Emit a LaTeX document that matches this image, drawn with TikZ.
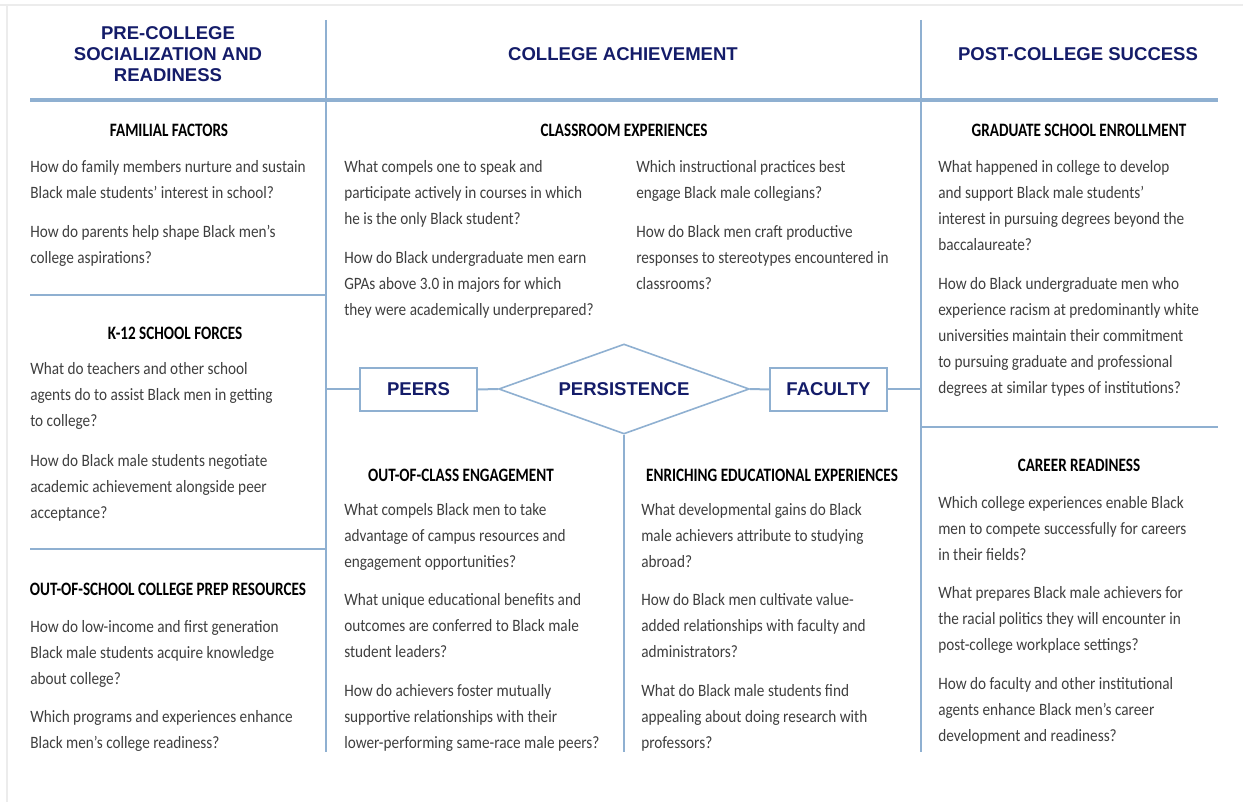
\documentclass[tikz,border=0pt]{standalone}
\usepackage{fontspec}
\setmainfont{Carlito}
\newfontfamily\hdfont{Liberation Sans}
\newfontfamily\qfont[FakeStretch=0.88]{Carlito}
\newfontfamily\subfont[FakeStretch=0.8]{Carlito}
\usetikzlibrary{shapes.geometric}
\definecolor{navy}{RGB}{20,28,105}
\definecolor{rulec}{RGB}{143,176,209}
\definecolor{bodyc}{RGB}{62,62,62}
\definecolor{framec}{RGB}{236,236,236}
\tikzset{
  hd/.style={font=\hdfont\bfseries\fontsize{13.9}{15.75}\selectfont, text=navy, align=center, inner sep=0pt},
  sub/.style={font=\subfont\bfseries\fontsize{14.2}{15}\selectfont, text=black, anchor=base, inner sep=0pt},
  q/.style={font=\qfont\fontsize{13}{19.5}\selectfont, text=bodyc, align=left, anchor=north west, inner sep=0pt,
    execute at begin node={\rule{0pt}{12pt}}},
  rl/.style={draw=rulec, line width=1.5pt},
  thickrl/.style={draw=rulec, line width=2.5pt},
  boxn/.style={draw=rulec, line width=1.2pt, fill=white, minimum width=87.75pt, minimum height=32.25pt, inner sep=0pt,
    font=\hdfont\bfseries\fontsize{13.9}{15}\selectfont, text=navy},
  diam/.style={draw=rulec, line width=1.2pt, fill=white, shape=diamond, aspect=2.8, minimum width=188pt, minimum height=67.5pt, inner sep=0pt,
    font=\hdfont\bfseries\fontsize{13.9}{15}\selectfont, text=navy}
}
\begin{document}
\begin{tikzpicture}[x=0.75pt,y=-0.75pt]
\useasboundingbox (0,0) rectangle (1243,802);
% faint frame
\draw[framec, line width=1.5pt] (0,5) -- (1243,5);
\draw[framec, line width=1.5pt] (7,5) -- (7,802);
% grid lines
\coordinate (ltop) at (326,20); \coordinate (lbot) at (326,752);
\coordinate (rtop) at (921,20); \coordinate (rbot) at (921,752);
\draw[rl] (ltop) -- (lbot);
\draw[rl] (rtop) -- (rbot);
\coordinate (hl) at (30,100); \coordinate (hr) at (1218,100);
\draw[thickrl] (hl) -- (hr);
\coordinate (a1) at (30,295); \coordinate (a2) at (326,295);
\draw[rl] (a1) -- (a2);
\coordinate (b1) at (30,549); \coordinate (b2) at (326,549);
\draw[rl] (b1) -- (b2);
\coordinate (c1) at (921,427); \coordinate (c2) at (1218,427);
\draw[rl] (c1) -- (c2);

% headers
\node[hd] (h1) at (168,54) {PRE-COLLEGE\\SOCIALIZATION AND\\READINESS};
\node[hd] (h2) at (623,54) {COLLEGE ACHIEVEMENT};
\node[hd] (h3) at (1078,54) {POST-COLLEGE SUCCESS};

% center diagram
\node[diam] (pers) at (624,389) {PERSISTENCE};
\node[boxn] (peers) at (418.5,389.5) {PEERS};
\node[boxn] (fac) at (828.5,389.5) {FACULTY};
\coordinate (lsep) at (326,389.5);
\coordinate (rsep) at (921,389.5);
\coordinate (midbot) at (624,752);
\draw[rl] (lsep) -- (peers.west);
\draw[rl] (peers.east) -- (pers.west);
\draw[rl] (pers.east) -- (fac.west);
\draw[rl] (fac.east) -- (rsep);
\draw[rl] (pers.south) -- (midbot);

% left column
\node[sub] (s1) at (169,137) {FAMILIAL FACTORS};
\node[q] (q1) at (30,160) {How do family members nurture and sustain\\Black male students’ interest in school?};
\node[q] (q2) at (30,225) {How do parents help shape Black men’s\\college aspirations?};
\node[sub] (s2) at (175,340) {K-12 SCHOOL FORCES};
\node[q] (q3) at (30,362) {What do teachers and other school\\agents do to assist Black men in getting\\to college?};
\node[q] (q4) at (30,454) {How do Black male students negotiate\\academic achievement alongside peer\\acceptance?};
\node[sub] (s3) at (168,595) {OUT-OF-SCHOOL COLLEGE PREP RESOURCES};
\node[q] (q5) at (30,620) {How do low-income and first generation\\Black male students acquire knowledge\\about college?};
\node[q] (q6) at (30,710) {Which programs and experiences enhance\\Black men’s college readiness?};

% middle top
\node[sub] (s4) at (624,137) {CLASSROOM EXPERIENCES};
\node[q] (q7) at (344,160) {What compels one to speak and\\participate actively in courses in which\\he is the only Black student?};
\node[q] (q8) at (344,251) {How do Black undergraduate men earn\\GPAs above 3.0 in majors for which\\they were academically underprepared?};
\node[q] (q9) at (636,160) {Which instructional practices best\\engage Black male collegians?};
\node[q] (q10) at (636,225) {How do Black men craft productive\\responses to stereotypes encountered in\\classrooms?};

% middle bottom
\node[sub] (s5) at (461,481) {OUT-OF-CLASS ENGAGEMENT};
\node[q] (q11) at (344,503) {What compels Black men to take\\advantage of campus resources and\\engagement opportunities?};
\node[q] (q12) at (344,593) {What unique educational benefits and\\outcomes are conferred to Black male\\student leaders?};
\node[q] (q13) at (344,684) {How do achievers foster mutually\\supportive relationships with their\\lower-performing same-race male peers?};
\node[sub] (s6) at (772,481) {ENRICHING EDUCATIONAL EXPERIENCES};
\node[q] (q14) at (641,503) {What developmental gains do Black\\male achievers attribute to studying\\abroad?};
\node[q] (q15) at (641,593) {How do Black men cultivate value-\\added relationships with faculty and\\administrators?};
\node[q] (q16) at (641,684) {What do Black male students find\\appealing about doing research with\\professors?};

% right column
\node[sub] (s7) at (1079,137) {GRADUATE SCHOOL ENROLLMENT};
\node[q] (q17) at (938,160) {What happened in college to develop\\and support Black male students’\\interest in pursuing degrees beyond the\\baccalaureate?};
\node[q] (q18) at (938,277) {How do Black undergraduate men who\\experience racism at predominantly white\\universities maintain their commitment\\to pursuing graduate and professional\\degrees at similar types of institutions?};
\node[sub] (s8) at (1079,471) {CAREER READINESS};
\node[q] (q19) at (938,496) {Which college experiences enable Black\\men to compete successfully for careers\\in their fields?};
\node[q] (q20) at (938,586) {What prepares Black male achievers for\\the racial politics they will encounter in\\post-college workplace settings?};
\node[q] (q21) at (938,677) {How do faculty and other institutional\\agents enhance Black men’s career\\development and readiness?};
\end{tikzpicture}
\end{document}
